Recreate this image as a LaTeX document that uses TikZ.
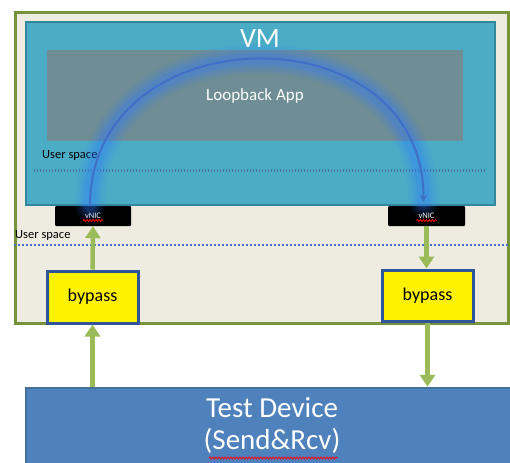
\documentclass[tikz,border=0pt]{standalone}
\usepackage{fontspec}
\setmainfont{Carlito}
\usepackage{tikz}
\usetikzlibrary{arrows.meta,decorations.pathmorphing,positioning}

\definecolor{hostfill}{HTML}{EEECE1}
\definecolor{hostline}{HTML}{77933C}
\definecolor{vmfill}{HTML}{4BACC6}
\definecolor{vmline}{HTML}{34869C}
\definecolor{appfill}{HTML}{6F8D94}
\definecolor{devfill}{HTML}{4F81BD}
\definecolor{devline}{HTML}{41719C}
\definecolor{bypassline}{HTML}{2F5597}
\definecolor{flowgreen}{HTML}{9BBB59}
\definecolor{loopblue}{HTML}{3F6FC8}
\definecolor{glowblue}{HTML}{2E7BFF}
\definecolor{splitblue}{HTML}{4472C4}
\definecolor{vmsplit}{HTML}{4A73A0}

\begin{document}
\begin{tikzpicture}[x=1pt,y=-1pt]
		\tikzstyle{Host}	= [draw=hostline, line width=3pt, fill=hostfill, inner sep=0pt]
		\tikzstyle{VMBox}	= [draw=vmline, line width=2.5pt, fill=vmfill, inner sep=0pt]
		\tikzstyle{AppBox}	= [fill=appfill, inner sep=0pt, text=white, font=\fontsize{17}{20}\selectfont]
		\tikzstyle{NIC}		= [fill=black, rounded corners=1pt, inner sep=0pt, text=white, font=\fontsize{8.5}{10}\selectfont]
		\tikzstyle{Bypass}	= [draw=bypassline, line width=3pt, fill=yellow, inner sep=0pt, font=\fontsize{18}{20}\selectfont]
		\tikzstyle{Device}	= [draw=devline, line width=2.5pt, fill=devfill, inner sep=0pt, text=white, align=center, font=\fontsize{29}{32}\selectfont]
		\tikzstyle{Space}	= [inner sep=0pt, anchor=west, font=\fontsize{12.5}{14}\selectfont]
		\tikzstyle{Flow}	= [flowgreen, line width=4.5pt, -{Triangle[width=15pt,length=12pt]}]
		\tikzstyle{Loop}	= [loopblue, line width=2pt, -{Stealth[length=7pt,width=7pt]}]
		\tikzstyle{Squiggle}	= [red, line width=0.8pt, decorate, decoration={snake, amplitude=1pt, segment length=3pt}]
		
		\clip (0,0) rectangle (510,462);
		
		\node (host) at (261.5,168) [Host, minimum width=493pt, minimum height=310pt] {};
		\node (vm) at (260.5,113.5) [VMBox, minimum width=469pt, minimum height=183pt] {};
		\node (app) at (255,96) [AppBox, minimum width=416pt, minimum height=91pt] {Loopback App};
		\node (vmtitle) at (260,39) [text=white, inner sep=0pt, font=\fontsize{28}{30}\selectfont] {VM};
		\node (vmspace) at (42,155) [Space] {User space};
		\node (hostspace) at (15,235) [Space] {User space};
		
		\node (vnicL) at (93,216) [NIC, minimum width=76pt, minimum height=20pt] {vNIC};
		\node (vnicR) at (426.5,216) [NIC, minimum width=77pt, minimum height=20pt] {vNIC};
		\node (bypassL) at (92.5,297) [Bypass, minimum width=91pt, minimum height=52pt] {bypass};
		\node (bypassR) at (427.5,295.5) [Bypass, minimum width=91pt, minimum height=51pt] {bypass};
		\node (dev) at (272,426) [Device, minimum width=492pt, minimum height=76pt] {Test Device\\(Send\&Rcv)};
		
		\draw [vmsplit, line width=3pt, dash pattern=on 1.5pt off 1.5pt] ([xshift=9pt]vm.west |- 0,171) to ([xshift=-10pt]vm.east |- 0,171);
		\draw [splitblue, line width=2.5pt, dash pattern=on 2pt off 2pt] (host.west |- 0,245) to (510,245);
		
		% glow round the loop
		\foreach \w/\o in {30/0.08, 24/0.10, 18/0.13, 12/0.18}
			\draw [glowblue, line width=\w pt, opacity=\o, line cap=round] ([xshift=-3pt]vnicL.north) .. controls +(0,-193) and +(0,-193) .. ([xshift=-3pt,yshift=4pt]vnicR.north);
		\draw [Loop] ([xshift=-3pt]vnicL.north) .. controls +(0,-193) and +(0,-193) .. ([xshift=-3pt,yshift=4pt]vnicR.north);
		
		\draw [Flow] (bypassL.north) to (vnicL.south);
		\draw [Flow] (bypassL |- dev.north) to (bypassL.south);
		\draw [Flow] (vnicR.south) to (vnicR |- bypassR.north);
		\draw [Flow] (bypassR.south) to (bypassR |- dev.north);
		
		\draw [Squiggle] ([xshift=-10pt,yshift=-4.5pt]vnicL.center) to ([xshift=10pt,yshift=-4.5pt]vnicL.center);
		\draw [Squiggle] ([xshift=-10pt,yshift=-4.5pt]vnicR.center) to ([xshift=10pt,yshift=-4.5pt]vnicR.center);
		\draw [Squiggle] ([xshift=-63pt,yshift=-32pt]dev.center) to ([xshift=66pt,yshift=-32pt]dev.center);
	\end{tikzpicture}
\end{document}
